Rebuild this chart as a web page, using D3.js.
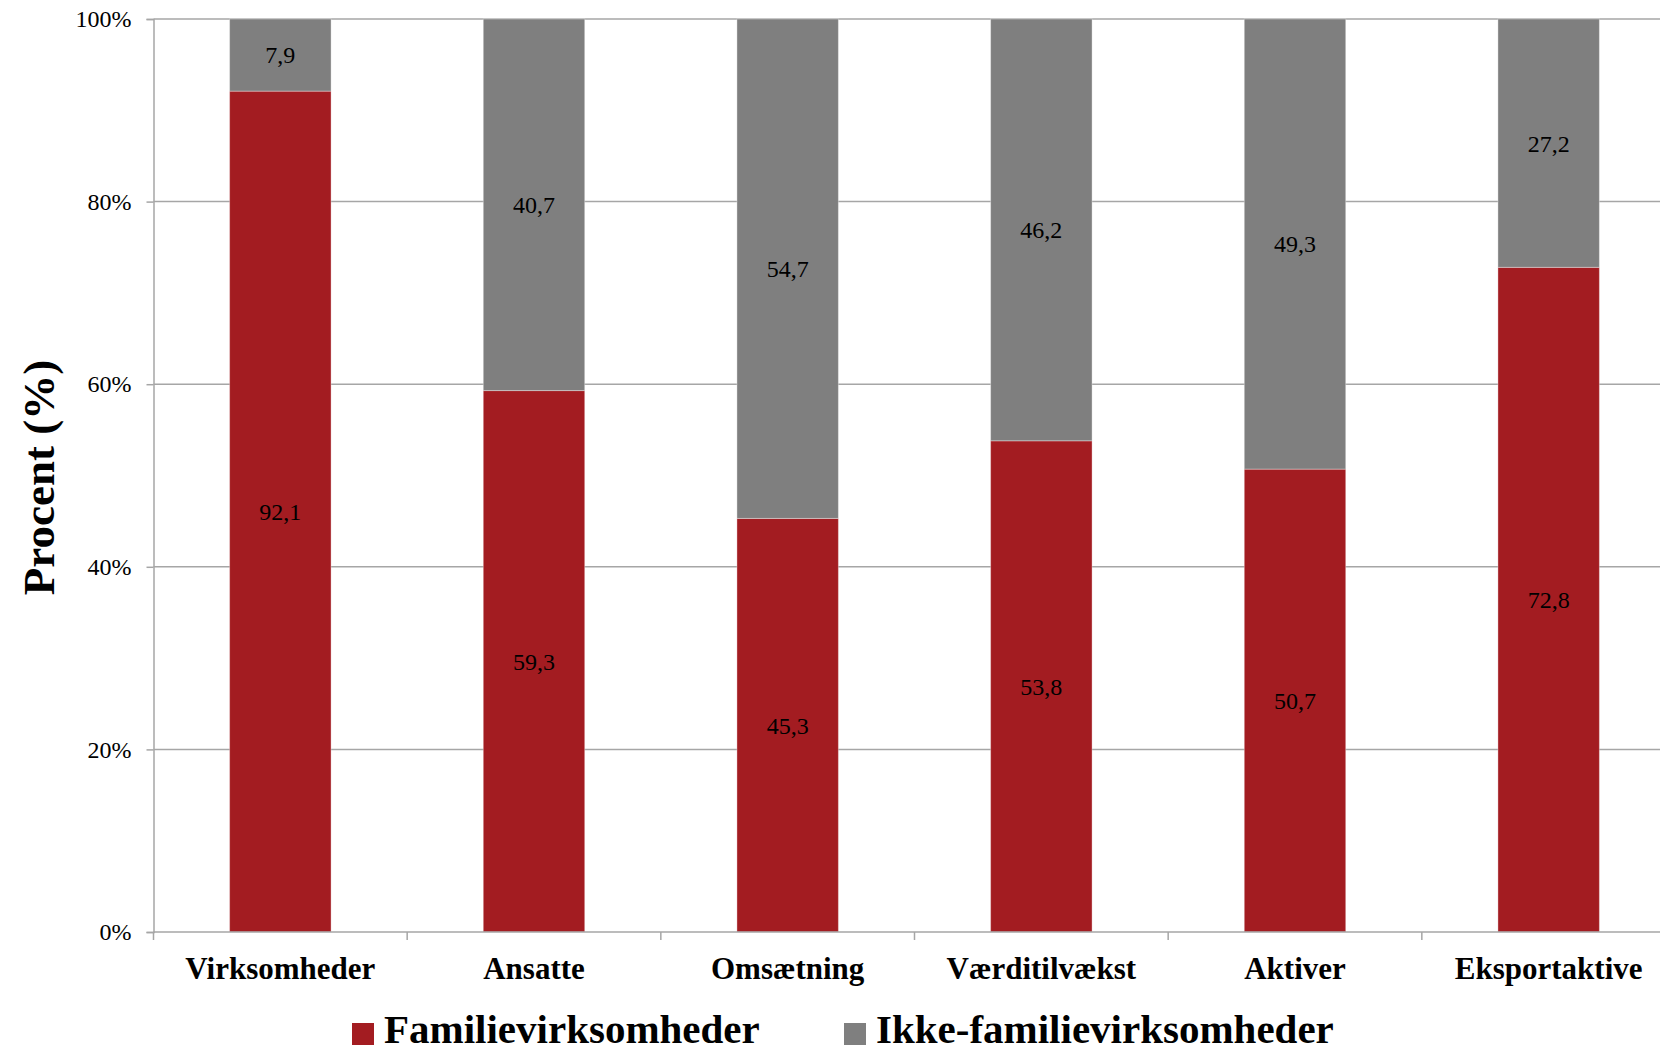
<!DOCTYPE html>
<html>
<head>
<meta charset="utf-8">
<script src="https://cdn.jsdelivr.net/npm/d3@7"></script>
<style>
  html, body { margin: 0; padding: 0; background: #fff; overflow: hidden; }
  svg { display: block; }
  text { font-family: "Liberation Serif", "DejaVu Serif", serif; fill: #000; }
</style>
</head>
<body>
<svg id="chart" width="1660" height="1052"></svg>
<script>
// Andel af familievirksomheder og ikke-familievirksomheder (procent)
const categories = ["Virksomheder", "Ansatte", "Omsætning", "Værditilvækst", "Aktiver", "Eksportaktive"];
const familie     = [92.1, 59.3, 45.3, 53.8, 50.7, 72.8];
const ikkeFamilie = [7.9, 40.7, 54.7, 46.2, 49.3, 27.2];
const seriesNames = ["Familievirksomheder", "Ikke-familievirksomheder"];
const yTicks = [0, 20, 40, 60, 80, 100];

const colors = ["#A31C21", "#7F7F7F"];
const gridColor = "#A6A6A6";

const svg = d3.select("#chart");
const W = 1660, H = 1052;
const plot = { left: 153.5, right: 1675.5, top: 19, bottom: 932 };

const x = d3.scaleBand()
  .domain(categories)
  .range([plot.left, plot.right])
  .paddingInner(0.6)
  .paddingOuter(0.3);

const y = d3.scaleLinear().domain([0, 100]).range([plot.bottom, plot.top]);

const fmt = v => String(v).replace(".", ",");

// Horizontal gridlines + y axis
const yAxis = d3.axisLeft(y)
  .tickValues(yTicks)
  .tickSize(7)
  .tickPadding(15)
  .tickFormat(d => d + "%");

const gy = svg.append("g")
  .attr("transform", `translate(${plot.left},0)`)
  .call(yAxis);
gy.select(".domain").attr("stroke", gridColor).attr("stroke-width", 1.5);
gy.selectAll(".tick line").attr("stroke", gridColor).attr("stroke-width", 1.5);
gy.selectAll(".tick text")
  .attr("font-size", 24)
  .attr("font-family", "Liberation Serif, serif")
  .attr("fill", "#000");

svg.append("g").selectAll("line")
  .data(yTicks.filter(d => d > 0))
  .join("line")
  .attr("x1", plot.left).attr("x2", W)
  .attr("y1", d => y(d)).attr("y2", d => y(d))
  .attr("stroke", gridColor).attr("stroke-width", 1.5);

// Stacked data
const rows = categories.map((c, i) => ({ cat: c, f: familie[i], n: ikkeFamilie[i] }));
const stack = d3.stack().keys(["f", "n"])(rows);

const layers = svg.append("g").selectAll("g")
  .data(stack)
  .join("g")
  .attr("fill", (d, i) => colors[i]);

layers.selectAll("rect")
  .data(d => d)
  .join("rect")
  .attr("x", d => x(d.data.cat))
  .attr("width", x.bandwidth())
  .attr("y", d => y(d[1]))
  .attr("height", d => y(d[0]) - y(d[1]))
  .attr("stroke", "rgba(255,255,255,0.35)")
  .attr("stroke-width", 1);

// Value labels centred in each segment
layers.selectAll("text")
  .data((d, i) => d.map(s => ({ s, v: s.data[i === 0 ? "f" : "n"] })))
  .join("text")
  .attr("x", d => x(d.s.data.cat) + x.bandwidth() / 2)
  .attr("y", d => (y(d.s[0]) + y(d.s[1])) / 2)
  .attr("dy", "0.35em")
  .attr("text-anchor", "middle")
  .attr("font-size", 24)
  .attr("fill", "#000")
  .text(d => fmt(d.v));

// Bottom axis
const xAxis = d3.axisBottom(x).tickSize(0).tickPadding(25);
const gx = svg.append("g")
  .attr("transform", `translate(0,${plot.bottom})`)
  .call(xAxis);
gx.select(".domain").remove();
gx.selectAll(".tick text")
  .attr("font-size", 31)
  .attr("font-weight", "bold")
  .attr("font-family", "Liberation Serif, serif")
  .attr("fill", "#000");

svg.append("line")
  .attr("x1", plot.left).attr("x2", W)
  .attr("y1", plot.bottom).attr("y2", plot.bottom)
  .attr("stroke", gridColor).attr("stroke-width", 1.5);

// Tick marks between categories
const step = x.step();
const boundaries = d3.range(categories.length + 1).map(i => plot.left + i * step);
svg.append("g").selectAll("line")
  .data(boundaries)
  .join("line")
  .attr("x1", d => d).attr("x2", d => d)
  .attr("y1", plot.bottom).attr("y2", plot.bottom + 8)
  .attr("stroke", gridColor).attr("stroke-width", 1.5);

// Y axis title
svg.append("text")
  .attr("transform", `translate(54,${(plot.top + plot.bottom) / 2 + 2}) rotate(-90)`)
  .attr("text-anchor", "middle")
  .attr("font-size", 45)
  .attr("font-weight", "bold")
  .text("Procent (%)");

// Legend
const legend = svg.append("g").attr("transform", "translate(0,1043)");
const legendItems = [
  { name: seriesNames[0], color: colors[0], x: 352 },
  { name: seriesNames[1], color: colors[1], x: 844 }
];
const li = legend.selectAll("g").data(legendItems).join("g")
  .attr("transform", d => `translate(${d.x},0)`);
li.append("rect")
  .attr("x", 0).attr("y", -20)
  .attr("width", 22).attr("height", 22)
  .attr("fill", d => d.color);
li.append("text")
  .attr("x", 32).attr("y", 0)
  .attr("font-size", 41)
  .attr("font-weight", "bold")
  .text(d => d.name);
</script>
</body>
</html>
